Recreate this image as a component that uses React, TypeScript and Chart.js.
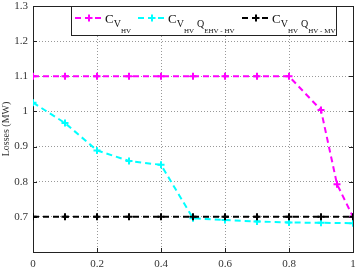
import React, { useEffect, useRef } from "react";
import { Chart, registerables } from "chart.js";

Chart.register(...registerables);

// ---- data ----
const magentaX = [0, 0.1, 0.2, 0.3, 0.4, 0.5, 0.6, 0.7, 0.8, 0.9, 0.95, 1.0];
const magentaY = [1.1, 1.1, 1.1, 1.1, 1.1, 1.1, 1.1, 1.1, 1.1, 1.004, 0.793, 0.7];
const cyanX = [0, 0.1, 0.2, 0.3, 0.4, 0.5, 0.6, 0.7, 0.8, 0.9, 1.0];
const cyanY = [1.025, 0.967, 0.889, 0.859, 0.848, 0.696, 0.691, 0.687, 0.684, 0.683, 0.682];
const blackX = [0, 0.1, 0.2, 0.3, 0.4, 0.5, 0.6, 0.7, 0.8, 0.9, 1.0];
const blackY = [0.7, 0.7, 0.7, 0.7, 0.7, 0.7, 0.7, 0.7, 0.7, 0.7, 0.7];

const xMin = 0;
const xMax = 1;
const xStep = 0.2;
const yMin = 0.6;
const yMax = 1.3;
const yStep = 0.1;
const hiddenYTick = 0.6;

const seriesColors = ["#ff00ff", "#00ffff", "#000000"];
// legend labels as [main, sub, subsub, subQ, subsubQ]
const legendParts: string[][] = [
  ["C", "V", "HV", "", ""],
  ["C", "V", "HV", "Q", "EHV - HV"],
  ["C", "V", "HV", "Q", "HV - MV"],
];
const yTitle = "Losses (MW)";

const SERIF = "'Liberation Serif', 'DejaVu Serif', serif";

function toPts(xs: number[], ys: number[]) {
  return xs.map((x, i) => ({ x, y: ys[i] }));
}

function drawCross(ctx: CanvasRenderingContext2D, x: number, y: number, r: number, color: string) {
  ctx.save();
  ctx.strokeStyle = color;
  ctx.lineWidth = 2;
  ctx.setLineDash([]);
  ctx.beginPath();
  ctx.moveTo(x - r, y);
  ctx.lineTo(x + r, y);
  ctx.moveTo(x, y - r);
  ctx.lineTo(x, y + r);
  ctx.stroke();
  ctx.restore();
}

const framePlugin = {
  id: "frame",
  beforeDatasetsDraw(chart: any) {
    const { ctx, chartArea: a, scales } = chart;
    ctx.save();
    ctx.strokeStyle = "#222";
    ctx.lineWidth = 1;
    ctx.setLineDash([]);
    ctx.strokeRect(Math.round(a.left) + 0.5, Math.round(a.top) + 0.5, Math.round(a.right - a.left), Math.round(a.bottom - a.top));
    const tl = 4;
    ctx.beginPath();
    scales.x.ticks.forEach((t: any) => {
      const px = Math.round(scales.x.getPixelForValue(t.value)) + 0.5;
      ctx.moveTo(px, a.bottom);
      ctx.lineTo(px, a.bottom - tl);
      ctx.moveTo(px, a.top);
      ctx.lineTo(px, a.top + tl);
    });
    scales.y.ticks.forEach((t: any) => {
      const py = Math.round(scales.y.getPixelForValue(t.value)) + 0.5;
      ctx.moveTo(a.left, py);
      ctx.lineTo(a.left + tl, py);
      ctx.moveTo(a.right, py);
      ctx.lineTo(a.right - tl, py);
    });
    ctx.stroke();
    ctx.restore();
  },
};

const legendPlugin = {
  id: "customLegend",
  afterDraw(chart: any) {
    const { ctx, chartArea: a } = chart;
    const boxLeft = 71;
    const boxRight = a.right - 17;
    const boxTop = Math.round(a.top);
    const boxBottom = boxTop + 29;
    ctx.save();
    ctx.fillStyle = "#fff";
    ctx.fillRect(boxLeft, boxTop, boxRight - boxLeft, boxBottom - boxTop);
    ctx.strokeStyle = "#222";
    ctx.lineWidth = 1;
    ctx.setLineDash([]);
    ctx.strokeRect(boxLeft + 0.5, boxTop + 0.5, boxRight - boxLeft, boxBottom - boxTop);

    const entryOffsets = [4, 67, 171];
    const cy = boxTop + 12;
    legendParts.forEach((parts, i) => {
      const sx = boxLeft + entryOffsets[i];
      const color = seriesColors[i];
      ctx.strokeStyle = color;
      ctx.lineWidth = 2;
      ctx.setLineDash([6, 4]);
      ctx.beginPath();
      ctx.moveTo(sx, cy);
      ctx.lineTo(sx + 27, cy);
      ctx.stroke();
      drawCross(ctx, sx + 14, cy, 3.5, color);

      ctx.fillStyle = "#111";
      ctx.textBaseline = "alphabetic";
      ctx.textAlign = "left";
      let tx = sx + 30;
      const base = cy + 5;
      ctx.font = `13px ${SERIF}`;
      ctx.fillText(parts[0], tx, base);
      tx += ctx.measureText(parts[0]).width;
      ctx.font = `10px ${SERIF}`;
      ctx.fillText(parts[1], tx, base + 4);
      tx += ctx.measureText(parts[1]).width;
      ctx.font = `7px ${SERIF}`;
      ctx.fillText(parts[2], tx, base + 10);
      tx += ctx.measureText(parts[2]).width;
      if (parts[3]) {
        tx += 3;
        ctx.font = `10px ${SERIF}`;
        ctx.fillText(parts[3], tx, base + 4);
        tx += ctx.measureText(parts[3]).width;
        ctx.font = `7px ${SERIF}`;
        ctx.fillText(parts[4], tx, base + 10);
      }
    });
    ctx.restore();
  },
};

export default function App() {
  const canvasRef = useRef<HTMLCanvasElement | null>(null);

  useEffect(() => {
    document.body.style.margin = "0";
    const canvas = canvasRef.current;
    if (!canvas) return;
    const mk = (xs: number[], ys: number[], color: string) => ({
      data: toPts(xs, ys),
      borderColor: color,
      backgroundColor: color,
      borderWidth: 2,
      borderDash: [6, 4],
      pointStyle: "cross" as const,
      pointRadius: 3.5,
      pointBorderWidth: 2,
      pointBorderColor: color,
      fill: false,
      tension: 0,
    });
    const chart = new Chart(canvas, {
      type: "line",
      data: {
        datasets: [
          mk(blackX, blackY, seriesColors[2]),
          mk(cyanX, cyanY, seriesColors[1]),
          mk(magentaX, magentaY, seriesColors[0]),
        ],
      },
      options: {
        responsive: false,
        animation: false,
        devicePixelRatio: 1,
        layout: { padding: { left: 0, right: 4, top: 4, bottom: 0 } },
        plugins: { legend: { display: false }, tooltip: { enabled: false } },
        scales: {
          x: {
            type: "linear",
            min: xMin,
            max: xMax,
            ticks: {
              stepSize: xStep,
              padding: 6,
              color: "#333",
              font: { family: SERIF, size: 11 },
              maxRotation: 0,
              callback: (v: any) => String(Number(Number(v).toFixed(1))),
            },
            grid: {
              drawTicks: false,
              color: (c: any) => {
                const v = c.tick ? c.tick.value : 0;
                return Math.abs(v - xMin) < 1e-6 || Math.abs(v - xMax) < 1e-6 ? "rgba(0,0,0,0)" : "#999";
              },
              lineWidth: 1,
            },
            border: { display: false, dash: [1, 2] },
            afterFit: (s: any) => {
              s.height = 21;
              s.paddingLeft = 0;
              s.paddingRight = 0;
            },
          },
          y: {
            type: "linear",
            min: yMin,
            max: yMax,
            ticks: {
              stepSize: yStep,
              padding: 5,
              color: "#333",
              font: { family: SERIF, size: 11 },
              callback: (v: any) => {
                const n = Number(Number(v).toFixed(1));
                if (Math.abs(n - hiddenYTick) < 1e-6) return "";
                return String(n);
              },
            },
            grid: {
              drawTicks: false,
              color: (c: any) => {
                const v = c.tick ? c.tick.value : 0;
                return Math.abs(v - yMin) < 1e-6 || Math.abs(v - yMax) < 1e-6 ? "rgba(0,0,0,0)" : "#999";
              },
              lineWidth: 1,
            },
            border: { display: false, dash: [1, 2] },
            title: {
              display: true,
              text: yTitle,
              color: "#333",
              font: { family: SERIF, size: 10 },
              padding: { top: 0, bottom: 0 },
            },
            afterFit: (s: any) => {
              s.width = 33;
              s.paddingTop = 0;
              s.paddingBottom = 0;
            },
          },
        },
      },
      plugins: [framePlugin, legendPlugin],
    } as any);
    return () => chart.destroy();
  }, []);

  return (
    <div style={{ width: 359, height: 273, background: "#fff" }}>
      <canvas ref={canvasRef} width={359} height={273} style={{ display: "block", width: 359, height: 273 }} />
    </div>
  );
}
